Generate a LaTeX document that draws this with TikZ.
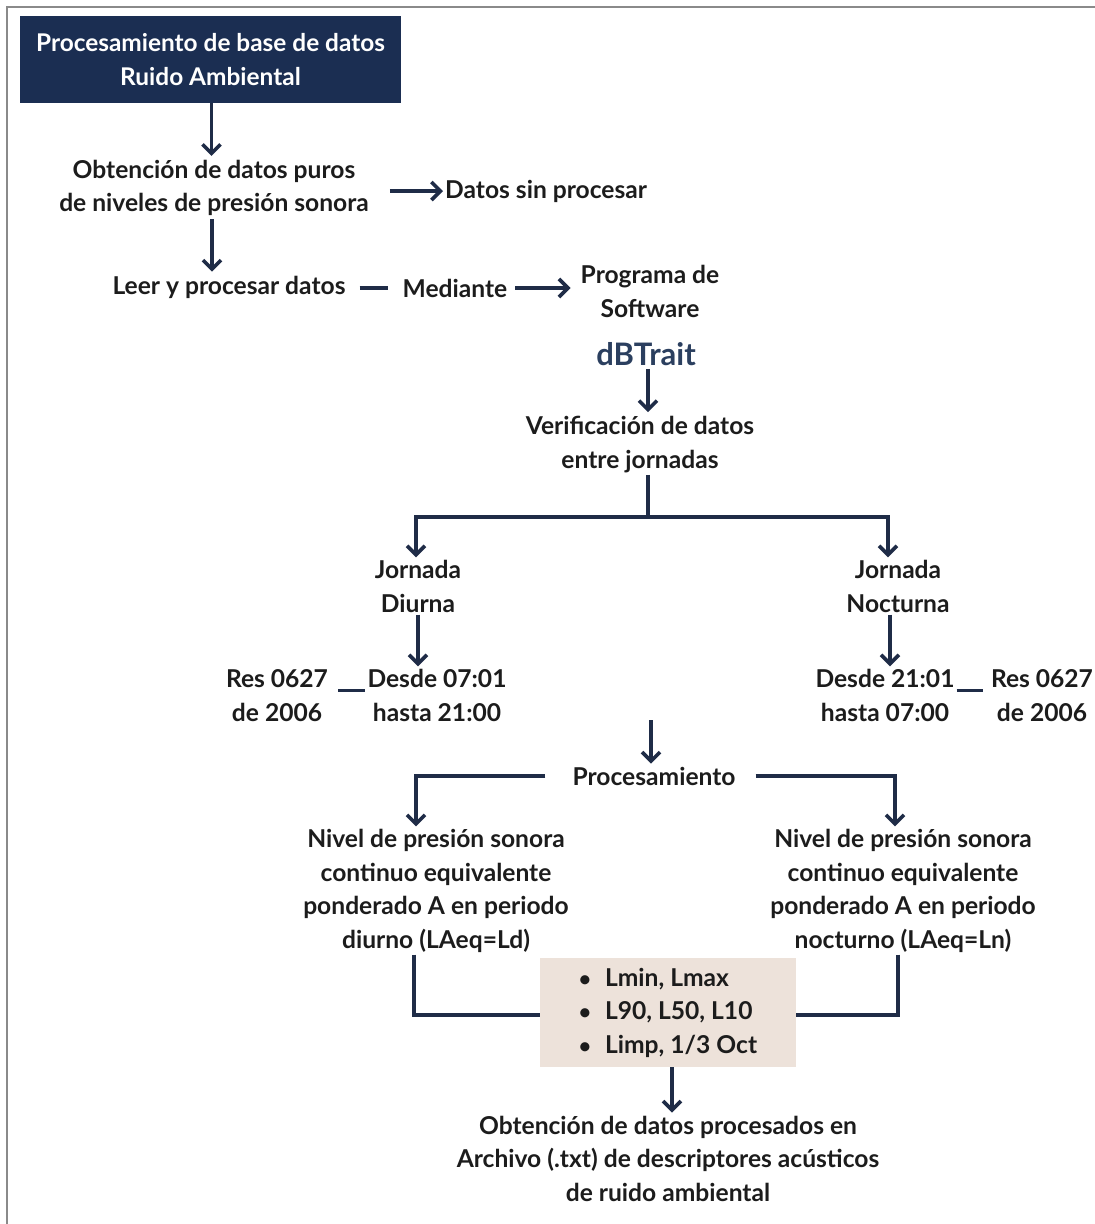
\documentclass[tikz,border=0pt]{standalone}
\usepackage{fontspec}
\setmainfont{Lato}
\usetikzlibrary{arrows.meta,calc}
\definecolor{navy}{HTML}{1B2E52}
\definecolor{wire}{HTML}{1F2C47}
\definecolor{soft}{HTML}{2B3F5F}
\definecolor{ink}{HTML}{1C1C1C}
\definecolor{sand}{HTML}{EDE2DA}
\definecolor{frame}{HTML}{8A8A8A}
\newcommand{\dotitem}{{\fontsize{21}{21}\selectfont\textbullet}\hspace{14pt}}
\begin{document}
\begin{tikzpicture}[x=1pt,y=-1pt,
  txt/.style={font=\fontsize{24.6}{33.5}\selectfont\bfseries, text=ink, align=center, inner sep=2pt},
  ln/.style={draw=wire, line width=3.6pt},
  arr/.style={ln, -{Straight Barb[length=9pt,width=18pt]}},
  titlebox/.style={fill=navy, text=white, minimum width=381pt, minimum height=87pt,
    font=\fontsize{24.4}{33.5}\selectfont\bfseries, align=center},
  listbox/.style={fill=sand, text=ink, minimum width=256pt, minimum height=109pt, inner xsep=0pt,
    font=\fontsize{24.6}{33.5}\selectfont\bfseries, align=left}
]
\useasboundingbox (0,0) rectangle (1095,1224);
\fill[white] (0,0) rectangle (1095,1224);
% frame edges
\draw[frame, line width=2pt] (7,1224) -- (7,7) -- (1095,7);

% nodes
\node[titlebox] (title) at (210.5,59.5) {Procesamiento de base de datos\\Ruido Ambiental};
\node[txt] (obt) at (214,188) {Obtención de datos puros\\de niveles de presión sonora};
\node[txt, anchor=west] (dsp) at (443,191) {Datos sin procesar};
\node[txt] (leer) at (229,287) {Leer y procesar datos};
\node[txt] (med) at (455,288) {Mediante};
\node[txt] (prog) at (650,291.5) {Programa de\\Software};
\node[txt, font=\fontsize{31}{36}\selectfont\bfseries, text=soft] (dbt) at (646,354) {dBTrait};
\node[txt] (ver) at (640,444.5) {Verificación de datos\\entre jornadas};
\node[txt] (jd) at (418,586.5) {Jornada\\Diurna};
\node[txt] (jn) at (898,586.5) {Jornada\\Nocturna};
\node[txt] (r1) at (277,695.5) {Res 0627\\de 2006};
\node[txt] (dd) at (437,695.5) {Desde 07:01\\hasta 21:00};
\node[txt] (dn) at (885,695.5) {Desde 21:01\\hasta 07:00};
\node[txt] (r2) at (1042,695.5) {Res 0627\\de 2006};
\node[txt] (proc) at (654,776) {Procesamiento};
\node[txt] (nl) at (436,891) {Nivel de presión sonora\\continuo equivalente\\ponderado A en periodo\\diurno (LAeq=Ld)};
\node[txt] (nr) at (903,891) {Nivel de presión sonora\\continuo equivalente\\ponderado A en periodo\\nocturno (LAeq=Ln)};
\node[listbox] (bx) at (668,1012.5) {\dotitem Lmin, Lmax\\\dotitem L90, L50, L10\\\dotitem Limp, 1/3 Oct};
\node[txt] (fin) at (668,1158.5) {Obtención de datos procesados en\\Archivo (.txt) de descriptores acústicos\\de ruido ambiental};

% helper points
\coordinate (fork) at (648,517);
\coordinate (pin) at (651,720);

% connectors
\draw[arr, shorten >=2pt] ([xshift=1pt]title.south) -- ([xshift=1pt]title.south |- obt.north);
\draw[arr, shorten <=19pt] (obt.east |- dsp.west) -- (dsp.west);
\draw[arr, shorten <=1pt, shorten >=2pt] ([xshift=-2pt]obt.south) -- ([xshift=-2pt]obt.south |- leer.north);
\draw[ln, shorten <=12pt, shorten >=13pt] (leer.east |- med.west) -- (med.west);
\draw[arr, shorten <=6pt, shorten >=8pt] (med.east) -- (med.east -| prog.west);
\draw[arr, shorten <=1pt, shorten >=2pt] ([xshift=2pt]dbt.south) -- ([xshift=2pt]dbt.south |- ver.north);
\draw[ln] (fork |- ver.south) -- (fork);
\draw[arr, shorten >=1pt] (fork) -| ([xshift=-2pt]jd.north);
\draw[arr, shorten >=1pt] (fork) -| ([xshift=-10pt]jn.north);
\draw[arr, shorten >=1pt] (jd.south) -- (jd.south |- dd.north);
\draw[arr, shorten >=1pt] ([xshift=-8pt]jn.south) -- ([xshift=-8pt]jn.south |- dn.north);
\draw[ln, shorten <=8pt] ([yshift=5pt]r1.east) -- ([yshift=5pt]dd.west);
\draw[ln, shorten >=6pt] ([yshift=5pt]dn.east) -- ([yshift=5pt]r2.west);
\draw[arr, shorten >=1pt] (pin) -- (pin |- proc.north);
\draw[arr, shorten <=25pt, shorten >=1pt] (proc.west) -| ([xshift=-20pt]nl.north);
\draw[arr, shorten <=18pt, shorten >=1pt] (proc.east) -| ([xshift=-8pt]nr.north);
\draw[ln] ([xshift=-22pt]nl.south) |- ([yshift=-2.5pt]bx.west);
\draw[ln] ([xshift=-5pt]nr.south) |- ([yshift=-2.5pt]bx.east);
\draw[arr, shorten >=1pt] ([xshift=4pt]bx.south) -- ([xshift=4pt]bx.south |- fin.north);
\end{tikzpicture}
\end{document}
